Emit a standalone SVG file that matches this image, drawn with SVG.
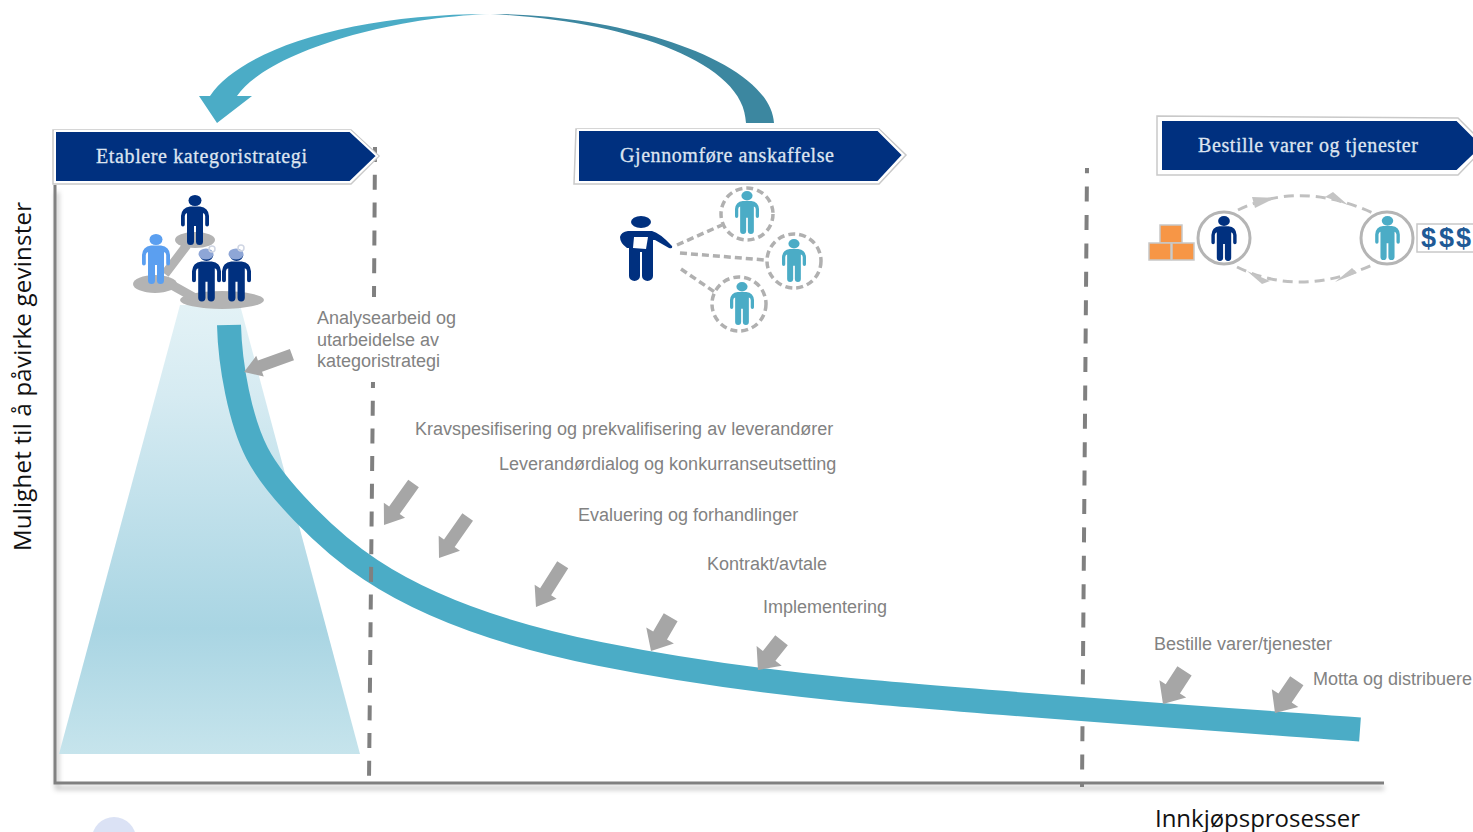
<svg xmlns="http://www.w3.org/2000/svg" width="1473" height="832" viewBox="0 0 1473 832">
<style>
text{font-family:"Liberation Sans",Arial,sans-serif}
.lab{font-size:18px;fill:#828282}
.ax{font-family:"Open Sans","Noto Sans",sans-serif;font-size:24px;fill:#111}
.ban{font-family:"Liberation Serif","Times New Roman",serif;font-size:20px;fill:#dde4f0;stroke:#dde4f0;stroke-width:.3}
.banb{fill:#00307f;stroke:#fff;stroke-width:2}
.bans{fill:none;stroke:#c9c9c9;stroke-width:1.500}
.dv{fill:none;stroke:#808080;stroke-width:4}
.ga{fill:#a6a6a6}
.dc{fill:none;stroke:#b0b0b0;stroke-width:3.500;stroke-dasharray:7 4}
.rc{fill:#fff;stroke:#b5b5b5;stroke-width:3}
.dl{fill:none;stroke:#c0c0c0;stroke-width:3;stroke-dasharray:10 6}
.ah{fill:#c4c4c4}
.box{fill:#f79646;stroke:#c8c8c8;stroke-width:1.500}
.plat{fill:#b3b3b3}
.navy{color:#00307f}.teal{color:#4bacc6}.sky{color:#5b9ff0}
</style>
<defs>
<linearGradient id="cone" x1="0" y1="305" x2="0" y2="754" gradientUnits="userSpaceOnUse">
<stop offset="0" stop-color="#e3f2f6"/><stop offset=".2" stop-color="#d6ebf2"/><stop offset=".72" stop-color="#a9d5e3"/><stop offset="1" stop-color="#c6e4ec"/>
</linearGradient>
<linearGradient id="arc" x1="199" y1="0" x2="774" y2="0" gradientUnits="userSpaceOnUse">
<stop offset="0" stop-color="#4bacc6"/><stop offset=".47" stop-color="#4bacc6"/><stop offset=".5" stop-color="#cfe8ef"/><stop offset=".53" stop-color="#3c87a0"/><stop offset="1" stop-color="#3c87a0"/>
</linearGradient>
<filter id="sh" x="-5%" y="-5%" width="110%" height="110%"><feGaussianBlur stdDeviation="2.500"/></filter>
<symbol id="person" viewBox="0 0 28 50" overflow="visible">
<ellipse cx="14" cy="5.500" rx="6.500" ry="5.500" fill="currentColor"/>
<path d="M9 11.500H19Q27.500 12.500 28 21V29.500a1.900 1.900 0 0 1-3.800 0V21Q24 18.500 22 18V46.500a3.500 3.500 0 0 1-7 0V31H13V46.500a3.500 3.500 0 0 1-7 0V18Q4 18.500 3.800 21V29.500a1.900 1.900 0 0 1-3.800 0V21Q.5 12.500 9 11.500Z" fill="currentColor"/>
</symbol>
</defs>

<rect width="1473" height="832" fill="#fff"/>
<circle cx="114" cy="839" r="22" fill="#dbe2f5"/>

<g id="axes">
<path d="M57 190V786H1384" fill="none" stroke="#000" stroke-opacity=".22" stroke-width="4" filter="url(#sh)" transform="translate(0,2)"/>
<path d="M55 185V783H1384" fill="none" stroke="#808080" stroke-width="3"/>
<text class="ax" transform="translate(31,551) rotate(-90)" textLength="349" lengthAdjust="spacing">Mulighet til å påvirke gevinster</text>
<text class="ax" x="1155" y="827" textLength="205" lengthAdjust="spacing">Innkjøpsprosesser</text>
</g>

<polygon id="cone-shape" points="180,305 240,305 360,754 59,754" fill="url(#cone)"/>

<g id="connectors">
<path class="dv" d="M1087 168L1082 787" stroke-dasharray="15 13.400" stroke-dashoffset="9.800"/>
<path id="curve" d="M229 325C230 365 240 420 257 453C274 486 325 540 371 570C430 609 510 636 600 654C680 670 760 681 840 689C960 701 1160 715 1360 729.500" fill="none" stroke="#4bacc6" stroke-width="24"/>
<path class="dv" d="M375 147L374 297" stroke-dasharray="15 12.800"/>
<path class="dv" d="M373 382L369 780" stroke-dasharray="15 12.700" stroke-dashoffset="9"/>
<path id="cycle-arrow" d="M774 123C770 60 620 14 490 14C350 14 240 50 210 96H199L217 123L252 96H237C265 55 380 18 490 14C620 20 745 60 746 123Z" fill="url(#arc)"/>
<g id="pointers">
<polygon class="ga" transform="translate(244,372) rotate(-20)" points="0,0 17,-11 17,-6 51,-6 51,6 17,6 17,11"/>
<polygon class="ga" transform="translate(384,525) rotate(-54.600)" points="0,0 18,-13 18,-6.500 51,-6.500 51,6.500 18,6.500 18,13"/>
<polygon class="ga" transform="translate(439,558) rotate(-55)" points="0,0 18,-13 18,-6.500 50,-6.500 50,6.500 18,6.500 18,13"/>
<polygon class="ga" transform="translate(536,607) rotate(-57.700)" points="0,0 18,-13 18,-6.500 50,-6.500 50,6.500 18,6.500 18,13"/>
<polygon class="ga" transform="translate(651,651) rotate(-59.700)" points="0,0 18,-16 18,-8 39,-8 39,8 18,8 18,16"/>
<polygon class="ga" transform="translate(758,670) rotate(-51.700)" points="0,0 18,-16 18,-8 38,-8 38,8 18,8 18,16"/>
<polygon class="ga" transform="translate(1163,704) rotate(-57)" points="0,0 18,-16 18,-8.500 39.500,-8.500 39.500,8.500 18,8.500 18,16"/>
<polygon class="ga" transform="translate(1275,713) rotate(-56)" points="0,0 18,-16 18,-8 39,-8 39,8 18,8 18,16"/>
</g>
</g>

<g id="banner-etablere">
<polygon class="bans" points="53,130 351,130 379,156 351,184 53,184"/>
<polygon class="banb" points="55,131 350,131 377,156 350,182 55,182"/>
<text class="ban" x="96" y="163" textLength="211" lengthAdjust="spacing">Etablere kategoristrategi</text>
</g>
<g id="banner-gjennomfore">
<polygon class="bans" points="576,129 879,129 906,155 879,184 574,184"/>
<polygon class="banb" points="578,130 878,130 903,155 878,182 578,182"/>
<text class="ban" x="620" y="162" textLength="214" lengthAdjust="spacing">Gjennomføre anskaffelse</text>
</g>
<g id="banner-bestille">
<polygon class="bans" points="1157,116 1458,118 1486,146 1458,175 1157,175"/>
<polygon class="banb" points="1161,120 1457,120 1483,146 1457,171 1161,171"/>
<text class="ban" x="1198" y="152" textLength="220" lengthAdjust="spacing">Bestille varer og tjenester</text>
</g>

<g id="team">
<ellipse class="plat" cx="195" cy="240" rx="20" ry="8"/>
<ellipse class="plat" cx="155" cy="284" rx="22" ry="9"/>
<ellipse class="plat" cx="222" cy="300" rx="42" ry="9"/>
<path d="M187 245L165 274M170 284L195 298" fill="none" stroke="#b3b3b3" stroke-width="9"/>
<use href="#person" x="181" y="195" width="28" height="50" class="navy"/>
<use href="#person" x="142" y="234" width="28" height="50" class="sky"/>
<use href="#person" x="192" y="249" width="29" height="53" class="navy"/>
<use href="#person" x="222" y="249" width="29" height="53" class="navy"/>
<ellipse cx="206" cy="254" rx="7.500" ry="5.500" fill="#8ea6d6"/>
<ellipse cx="236" cy="254" rx="7.500" ry="5.500" fill="#8ea6d6"/>
<circle cx="212" cy="249" r="3" fill="none" stroke="#d0d6e4" stroke-width="1.500"/>
<circle cx="241" cy="248" r="3" fill="none" stroke="#d0d6e4" stroke-width="1.500"/>
</g>

<g id="buyer">
<path class="dc" d="M677 245L722 225"/>
<path class="dc" d="M680 253L765 260"/>
<path class="dc" d="M681 269L716 293"/>
<circle class="dc" cx="747" cy="214" r="26"/>
<circle class="dc" cx="794" cy="261" r="27"/>
<circle class="dc" cx="739" cy="304" r="27"/>
<use href="#person" x="735" y="191" width="24" height="43" class="teal"/>
<use href="#person" x="782" y="239" width="24" height="43" class="teal"/>
<use href="#person" x="730" y="282" width="24" height="43" class="teal"/>
<ellipse cx="641" cy="222" rx="10" ry="6" fill="#00307f"/>
<path d="M628 231H652Q660 233 672 246Q673 249 669 248L655 240H653V276a5.500 5 0 0 1-11 0V252H640V276a5.500 5 0 0 1-11 0V248H627Q620 243 620 237Q621 232 628 231Z" fill="#00307f"/>
<polygon points="634,237 648,237 646,249 633,248" fill="#fff"/>
</g>

<g id="exchange">
<path class="dl" d="M1238 210Q1300 180 1373 213"/>
<path class="dl" d="M1237 267Q1300 298 1372 265"/>
<polygon class="ah" points="1252,197 1275,198 1255,208"/>
<polygon class="ah" points="1333,192 1348,205 1325,197"/>
<polygon class="ah" points="1247,271 1270,281 1262,284"/>
<polygon class="ah" points="1352,268 1335,282 1357,273"/>
<circle class="rc" cx="1224" cy="238" r="26"/>
<circle class="rc" cx="1387" cy="238" r="26"/>
<use href="#person" x="1211" y="216" width="26" height="45" class="navy"/>
<use href="#person" x="1375" y="216" width="25" height="44" class="teal"/>
<rect class="box" x="1160" y="225" width="22" height="18"/>
<rect class="box" x="1149" y="243" width="22" height="17"/>
<rect class="box" x="1172" y="243" width="22" height="17"/>
<rect x="1417" y="224" width="60" height="28" fill="#fff" stroke="#c8c8c8" stroke-width="1.500"/>
<text x="1421 1439 1456" y="247" style="font-size:27px;font-weight:bold;fill:#1f5a96">$$$</text>
</g>

<g id="labels">
<text class="lab" x="317" y="324">Analysearbeid og</text>
<text class="lab" x="317" y="346">utarbeidelse av</text>
<text class="lab" x="317" y="367">kategoristrategi</text>
<text class="lab" x="415" y="435">Kravspesifisering og prekvalifisering av leverandører</text>
<text class="lab" x="499" y="470">Leverandørdialog og konkurranseutsetting</text>
<text class="lab" x="578" y="521">Evaluering og forhandlinger</text>
<text class="lab" x="707" y="570">Kontrakt/avtale</text>
<text class="lab" x="763" y="613">Implementering</text>
<text class="lab" x="1154" y="650">Bestille varer/tjenester</text>
<text class="lab" x="1313" y="685">Motta og distribuere</text>
</g>
</svg>
